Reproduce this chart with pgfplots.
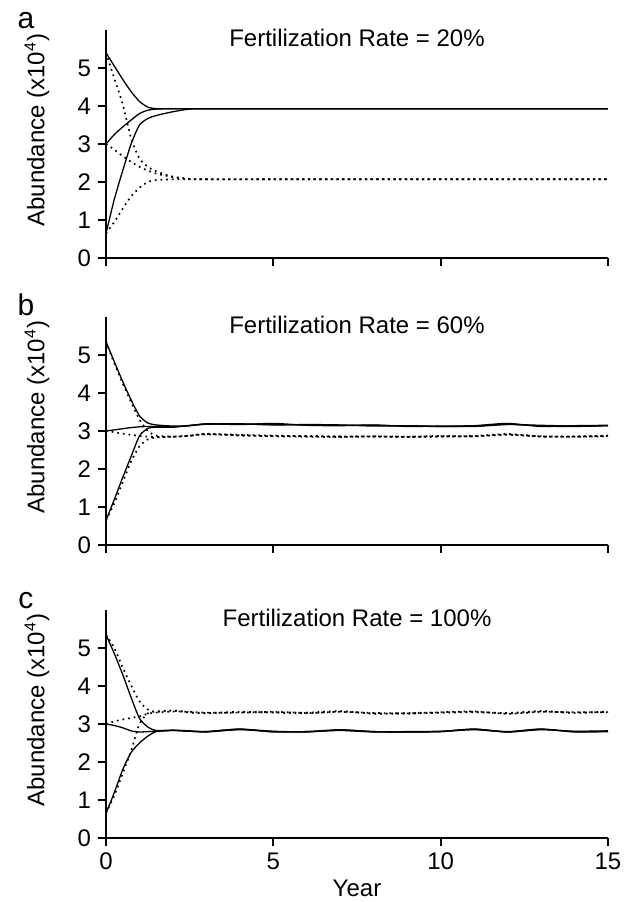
\documentclass[border=0pt]{standalone}
\usepackage{fontspec}
\setmainfont{Liberation Sans}
\usepackage{pgfplots}
\usepackage{pgfplotstable}
\pgfplotsset{compat=1.18}

% columns: t, three solid runs, three dotted runs
\pgfplotstableread{
t    s1   s2   s3   d1   d2   d3
0    5.40 3.00 0.65 5.40 3.00 0.65
0.25 5.05 3.25 1.55 4.72 2.85 0.95
0.5  4.70 3.45 2.30 4.05 2.68 1.30
0.75 4.38 3.63 3.00 3.15 2.53 1.62
1    4.12 3.80 3.50 2.62 2.40 1.85
1.25 3.97 3.89 3.67 2.40 2.30 2.00
1.5  3.93 3.92 3.75 2.28 2.22 2.05
2    3.93 3.93 3.85 2.14 2.13 2.07
2.5  3.93 3.93 3.92 2.08 2.08 2.07
3    3.93 3.93 3.93 2.07 2.07 2.07
5    3.93 3.93 3.93 2.07 2.07 2.07
10   3.93 3.93 3.93 2.07 2.07 2.07
15   3.93 3.93 3.93 2.07 2.07 2.07
}\tablea

\pgfplotstableread{
t    s1   s2   s3   d1   d2   d3
0    5.35 3.00 0.65 5.35 3.00 0.65
0.25 4.82 3.03 1.20 4.78 2.97 1.10
0.5  4.30 3.06 1.78 4.25 2.93 1.65
0.75 3.82 3.09 2.33 3.76 2.90 2.20
1    3.40 3.11 2.87 3.30 2.87 2.60
1.25 3.21 3.12 3.07 3.00 2.85 2.78
1.5  3.16 3.12 3.10 2.88 2.84 2.83
2    3.13 3.11 3.10 2.85 2.85 2.85
2.5  3.14 3.14 3.15 2.88 2.87 2.88
3    3.18 3.19 3.18 2.92 2.93 2.91
4    3.18 3.17 3.19 2.90 2.88 2.89
5    3.17 3.20 3.16 2.88 2.87 2.86
6    3.16 3.15 3.17 2.86 2.87 2.85
7    3.15 3.14 3.16 2.85 2.86 2.84
8    3.15 3.16 3.13 2.86 2.85 2.86
9    3.13 3.12 3.14 2.85 2.84 2.85
10   3.12 3.13 3.12 2.86 2.85 2.87
11   3.13 3.14 3.12 2.87 2.86 2.86
12   3.18 3.20 3.17 2.92 2.91 2.90
13   3.13 3.12 3.15 2.86 2.85 2.86
14   3.12 3.14 3.13 2.85 2.86 2.85
15   3.14 3.15 3.14 2.87 2.88 2.86
}\tableb

\pgfplotstableread{
t    s1   s2   s3   d1   d2   d3
0    5.35 3.00 0.65 5.35 3.00 0.65
0.25 4.85 2.96 1.20 5.00 3.07 1.12
0.5  4.30 2.90 1.80 4.48 3.12 1.70
0.75 3.70 2.82 2.25 4.02 3.16 2.30
1    3.15 2.79 2.50 3.60 3.20 3.00
1.25 2.92 2.80 2.68 3.38 3.27 3.28
1.5  2.83 2.81 2.80 3.32 3.30 3.33
2    2.84 2.83 2.83 3.35 3.33 3.36
2.5  2.82 2.81 2.81 3.30 3.32 3.31
3    2.80 2.79 2.80 3.28 3.30 3.29
4    2.86 2.85 2.87 3.31 3.30 3.32
5    2.81 2.80 2.79 3.30 3.32 3.31
6    2.79 2.80 2.80 3.28 3.29 3.30
7    2.84 2.83 2.85 3.33 3.32 3.34
8    2.80 2.79 2.80 3.28 3.29 3.27
9    2.79 2.80 2.79 3.27 3.28 3.29
10   2.80 2.81 2.80 3.30 3.31 3.30
11   2.87 2.86 2.85 3.32 3.33 3.31
12   2.79 2.80 2.79 3.28 3.27 3.29
13   2.86 2.87 2.85 3.33 3.32 3.34
14   2.80 2.79 2.81 3.30 3.31 3.29
15   2.81 2.80 2.82 3.32 3.31 3.33
}\tablec

\pgfplotsset{
  panel/.style={
    scale only axis, width=251pt, height=114pt,
    xmin=0, xmax=15, ymin=0, ymax=6,
    xtick={0,5,10,15}, ytick={0,1,2,3,4,5},
    axis lines*=left,
    axis line style={line width=0.9pt},
    tick align=outside, major tick length=4pt,
    tick style={line width=0.9pt, black},
    font=\fontsize{12}{14}\selectfont,
    tick label style={font=\fontsize{12}{14}\selectfont},
    /pgf/number format/assume math mode=true,
    ylabel={Abundance (x10\textsuperscript{4})},
    every axis y label/.style={at={(rel axis cs:0,0.56)}, xshift=-34.5pt, rotate=90, anchor=center},
    clip=false,
  },
  sol/.style={black, line width=0.65pt, smooth, tension=0.4},
  dot/.style={black, line width=0.85pt, dotted, smooth, tension=0.4},
}

\newcommand{\runs}[1]{%
  \addplot[sol] table[x=t, y=s1] {#1};
  \addplot[sol] table[x=t, y=s2] {#1};
  \addplot[sol] table[x=t, y=s3] {#1};
  \addplot[dot] table[x=t, y=d1] {#1};
  \addplot[dot] table[x=t, y=d2] {#1};
  \addplot[dot] table[x=t, y=d3] {#1};
}
\newcommand{\panelhead}[2]{%
  \node[anchor=center, yshift=-4pt] at (rel axis cs:0.5,1) {Fertilization Rate = #2\%};
  \node[anchor=base, font=\fontsize{15}{18}\selectfont, xshift=-40pt, yshift=1pt] at (rel axis cs:0,1) {#1};
}

\begin{document}
\begin{tikzpicture}
\path[use as bounding box] (-53pt,-32pt) rectangle (262.5pt,419pt);

\begin{axis}[panel, at={(0pt,290pt)}, anchor=south west, xticklabels={}]
\runs{\tablea}
\panelhead{a}{20}
\end{axis}

\begin{axis}[panel, at={(0pt,146.5pt)}, anchor=south west, xticklabels={}]
\runs{\tableb}
\panelhead{b}{60}
\end{axis}

\begin{axis}[panel, at={(0pt,0pt)}, anchor=south west,
  xlabel={Year}, xlabel style={yshift=2pt}]
\runs{\tablec}
\panelhead{c}{100}
\end{axis}
\end{tikzpicture}
\end{document}
